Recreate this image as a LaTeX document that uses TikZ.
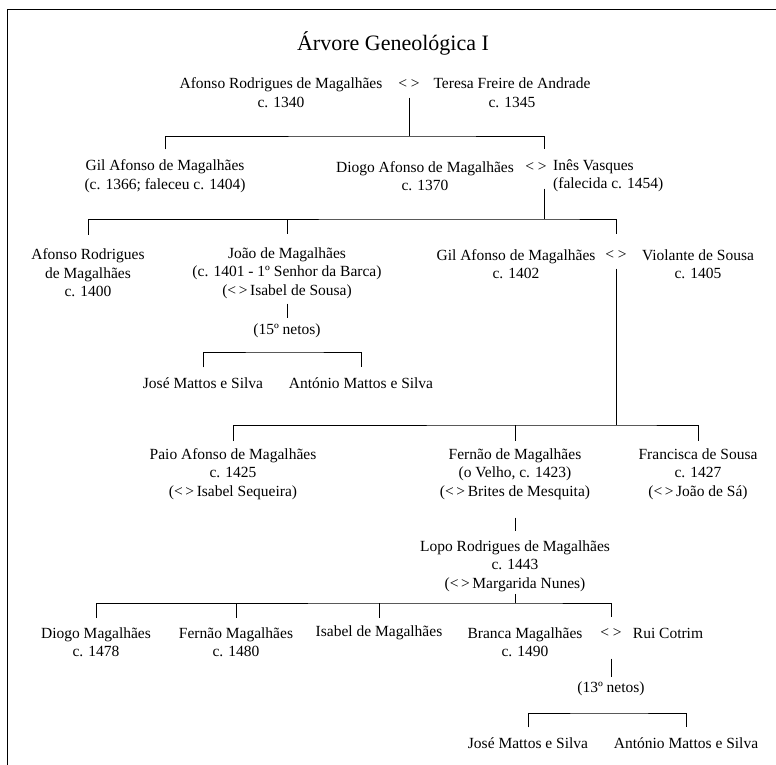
\documentclass[tikz,border=0pt]{standalone}
\usepackage{fontspec}
\setmainfont{Liberation Serif}
\usetikzlibrary{positioning}

\begin{document}
\begin{tikzpicture}[x=1pt, y=-1pt]
\tikzset{PessoaStyle/.style = {align=center, inner sep=0pt, font=\fontsize{15.5}{18.5}\selectfont}}
\tikzset{CasalStyle/.style = {inner sep=0pt, font=\fontsize{15.5}{18.5}\selectfont}}
\tikzset{LinhaStyle/.style = {line width=0.8pt}}
\useasboundingbox (0,0) rectangle (776,765);
\draw[line width=1pt] (7,765) -- (7,10) -- (776,10);

	\node[font=\fontsize{22}{26}\selectfont] (titulo) at (393,43) {Árvore Geneológica I};

	\node[PessoaStyle] (afonso) at (281,92.5) {Afonso Rodrigues de Magalhães\\c. 1340};
	\node[CasalStyle] (m1) at (409,84) {< >};
	\node[PessoaStyle] (teresa) at (512,92.5) {Teresa Freire de Andrade\\c. 1345};

	\node[PessoaStyle] (gil) at (165,176) {Gil Afonso de Magalhães\\(c. 1366; faleceu c. 1404)};
	\node[PessoaStyle] (diogo) at (425,176) {Diogo Afonso de Magalhães\\c. 1370};
	\node[CasalStyle] (m2) at (536,167) {< >};
	\node[PessoaStyle, align=left, anchor=west] (ines) at (553,176) {Inês Vasques\\(falecida c. 1454)};

	\node[PessoaStyle] (afonso2) at (88,273) {Afonso Rodrigues\\de Magalhães\\c. 1400};
	\node[PessoaStyle] (joao) at (287,273) {João de Magalhães\\(c. 1401 - 1º Senhor da Barca)\\(<\,>\,Isabel de Sousa)};
	\node[PessoaStyle] (netos15) at (287,331) {(15º netos)};
	\node[PessoaStyle] (jose1) at (203,383) {José Mattos e Silva};
	\node[PessoaStyle] (antonio1) at (361,383) {António Mattos e Silva};
	\node[PessoaStyle] (gil2) at (516,264) {Gil Afonso de Magalhães\\c. 1402};
	\node[CasalStyle] (m3) at (616,255) {< >};
	\node[PessoaStyle] (violante) at (698,264) {Violante de Sousa\\c. 1405};

	\node[PessoaStyle] (paio) at (233,474) {Paio Afonso de Magalhães\\c. 1425\\(<\,>\,Isabel Sequeira)};
	\node[PessoaStyle] (fernao) at (515,474) {Fernão de Magalhães\\(o Velho, c. 1423)\\(<\,>\,Brites de Mesquita)};
	\node[PessoaStyle] (francisca) at (698,474) {Francisca de Sousa\\c. 1427\\(<\,>\,João de Sá)};
	\node[PessoaStyle] (lopo) at (515,566) {Lopo Rodrigues de Magalhães\\c. 1443\\(<\,>\,Margarida Nunes)};

	\node[PessoaStyle] (diogo2) at (96,642) {Diogo Magalhães\\c. 1478};
	\node[PessoaStyle] (fernao2) at (236,642) {Fernão Magalhães\\c. 1480};
	\node[PessoaStyle] (isabel) at (379,633) {Isabel de Magalhães};
	\node[PessoaStyle] (branca) at (525,642) {Branca Magalhães\\c. 1490};
	\node[CasalStyle] (m4) at (611,633) {< >};
	\node[PessoaStyle] (rui) at (668,633) {Rui Cotrim};
	\node[PessoaStyle] (netos13) at (611,689) {(13º netos)};
	\node[PessoaStyle] (jose2) at (528,743) {José Mattos e Silva};
	\node[PessoaStyle] (antonio2) at (686,743) {António Mattos e Silva};

% barras
	\coordinate (b1) at (409,136);
	\coordinate (b2) at (544,219);
	\coordinate (b15) at (287,352);
	\coordinate (b3) at (616,425);
	\coordinate (b5) at (515,603);
	\coordinate (b13) at (611,713);

	\draw[LinhaStyle, shorten <=9pt] (m1) -- (b1);
	\draw[LinhaStyle, shorten <=10pt, shorten >=13pt] (gil) |- (b1) -| (m2.north -| b2);
	\draw[LinhaStyle, shorten <=17pt] (m2.south -| b2) -- (b2);
	\draw[LinhaStyle, shorten <=14pt, shorten >=16pt] (afonso2) |- (b2) -| (m3);
	\draw[LinhaStyle, shorten >=13pt] (b2 -| joao) -- (joao);
	\draw[LinhaStyle, shorten <=5pt, shorten >=6pt] (joao) -- (netos15);
	\draw[LinhaStyle, shorten <=10pt, shorten >=10pt] (jose1) |- (b15) -| (antonio1);
	\draw[LinhaStyle, shorten <=9pt] (m3) -- (b3);
	\draw[LinhaStyle, shorten <=7pt, shorten >=7pt] (paio) |- (b3) -| (francisca);
	\draw[LinhaStyle, shorten >=7pt] (b3 -| fernao) -- (fernao);
	\draw[LinhaStyle, shorten <=18pt, shorten >=9pt] (fernao) -- (lopo);
	\draw[LinhaStyle, shorten <=2pt] (lopo) -- (b5);
	\draw[LinhaStyle, shorten <=9pt, shorten >=11pt] (diogo2) |- (b5) -| (m4);
	\draw[LinhaStyle, shorten >=9pt] (b5 -| fernao2) -- (fernao2);
	\draw[LinhaStyle, shorten >=8pt] (b5 -| isabel) -- (isabel);
	\draw[LinhaStyle, shorten <=21pt, shorten >=5pt] (m4) -- (netos13);
	\draw[LinhaStyle, shorten <=10pt, shorten >=10pt] (jose2) |- (b13) -| (antonio2);
\end{tikzpicture}
\end{document}
